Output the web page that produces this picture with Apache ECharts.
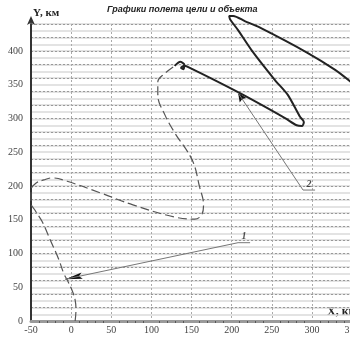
<!DOCTYPE html>
<html><head><meta charset="utf-8">
<script src="https://cdn.jsdelivr.net/npm/echarts@6/dist/echarts.min.js"></script>
<style>html,body{margin:0;padding:0;background:#fff}#c{width:350px;height:337px}</style>
</head><body><div id="c"></div>
<script>
// Axis ticks
const xTicks = [-50, 0, 50, 100, 150, 200, 250, 300, 350];
const yTicks = [0, 50, 100, 150, 200, 250, 300, 350, 400];

// Object trajectory (dashed), km
const objectX = [5, 6, 5, 1, -5, -9, -16, -26, -36, -45, -50, -50, -44, -34, -24, -5, 36, 77, 129, 154, 163, 165, 160, 151, 129, 117, 108, 108, 117, 129];
const objectY = [0, 16, 31, 46, 61, 70, 93, 120, 147, 164, 175, 194, 204, 209, 212, 207, 190, 172, 154, 151, 158, 172, 199, 238, 279, 305, 335, 354, 367, 378];

// Target trajectory (solid), km
const targetX = [129, 136, 141, 140, 137, 141, 148, 208, 266, 281, 288, 290, 285, 270, 254, 225, 208, 198, 197, 202, 217, 233, 295, 329, 352];
const targetY = [378, 384, 380, 373, 375, 378, 375, 339, 301, 290, 289, 295, 303, 335, 357, 401, 431, 447, 452, 452, 444, 436, 397, 372, 351];

// Pointer lines with labels
const pointer1X = [223, 208, -7];
const pointer1Y = [116, 116, 62];
const pointer2X = [304, 289, 208];
const pointer2Y = [194, 194, 338];
const pointerLabels = ['1', '2'];

const serif = 'Liberation Serif';
const chart = echarts.init(document.getElementById('c'), null, {renderer: 'canvas'});
const zip = (xs, ys) => xs.map((x, i) => [x, ys[i]]);
const p1 = zip(pointer1X, pointer1Y);
const p2 = zip(pointer2X, pointer2Y);
// short segment at the end of each pointer, carrying the arrow head
const tail = (pts) => {
  const a = pts[pts.length - 2], b = pts[pts.length - 1], t = 0.97;
  return [[a[0] + (b[0] - a[0]) * t, a[1] + (b[1] - a[1]) * t], b];
};
// arrow heads with the tip at the symbol centre
const arrowLong = 'path://M0,0 L3,16 L0,13 L-3,16 Z M-16,-16 M16,16';
const arrowShort = 'path://M0,0 L4,9 L0,7.5 L-4,9 Z M-9,-9 M9,9';

chart.setOption({
  animation: false,
  backgroundColor: '#fff',
  title: {
    text: 'Графики полета цели и объекта', left: 102, top: 0,
    textStyle: {fontStyle: 'italic', fontWeight: 'bold', fontSize: 9, fontFamily: 'Liberation Sans', color: '#222'}
  },
  grid: {left: 31, right: -2, top: 24, bottom: 16, containLabel: false, outerBoundsMode: 'none'},
  xAxis: {
    type: 'value', min: xTicks[0], max: xTicks[xTicks.length - 1], interval: 50,
    axisLine: {show: true, onZero: false, lineStyle: {color: '#9a9a9a', width: 3}},
    axisTick: {show: false},
    minorTick: {show: true, splitNumber: 5, length: 2, lineStyle: {color: '#555', width: 1}},
    axisLabel: {fontFamily: serif, fontSize: 10, color: '#444', margin: 4, showMinLabel: true, showMaxLabel: true, hideOverlap: false},
    splitLine: {show: true, lineStyle: {type: [2, 2], color: '#aaa', width: 1}}
  },
  yAxis: [{
    type: 'value', min: 0, max: 440, interval: 10,
    axisLine: {show: true, onZero: false, symbol: ['none', 'arrow'], symbolSize: [6, 9], symbolOffset: [0, 8],
      lineStyle: {color: '#333', width: 2}},
    axisTick: {show: false},
    axisLabel: {fontFamily: serif, fontSize: 10, color: '#444', margin: 8,
      formatter: v => (yTicks.indexOf(v) >= 0 ? String(v) : '')},
    splitLine: {show: true, lineStyle: {color: '#dadada', type: 'solid', width: 1.5}}
  }, {
    type: 'value', min: 0, max: 440, interval: 10,
    axisLine: {show: false}, axisTick: {show: false}, axisLabel: {show: false},
    splitLine: {show: true, lineStyle: {color: ['#999', 'rgba(0,0,0,0)'], type: [2, 2], width: 1}}
  }],
  graphic: [
    {type: 'text', left: 33, top: 8, style: {text: 'Y, км', font: 'bold 11px "Liberation Serif"', fill: '#222'}},
    {type: 'text', left: 327, top: 306, style: {text: 'X, км', font: 'bold 12px "Liberation Serif"', fill: '#222'}}
  ],
  series: [
    {type: 'line', data: zip(objectX, objectY), smooth: 0.4, showSymbol: false, clip: false,
      lineStyle: {color: '#555', width: 1.2, type: [9, 4]}},
    {type: 'line', data: zip(targetX, targetY), smooth: 0.25, showSymbol: false, clip: false,
      lineStyle: {color: '#222', width: 2}},
    {type: 'line', data: p1, showSymbol: false, lineStyle: {color: '#777', width: 1}},
    {type: 'line', data: p2, showSymbol: false, lineStyle: {color: '#777', width: 1}},
    {type: 'lines', coordinateSystem: 'cartesian2d', symbol: ['none', arrowLong], symbolSize: [1, 34],
      lineStyle: {color: '#111', width: 1, opacity: 1}, data: [{coords: tail(p1)}]},
    {type: 'lines', coordinateSystem: 'cartesian2d', symbol: ['none', arrowShort], symbolSize: [1, 18],
      lineStyle: {color: '#111', width: 1, opacity: 1}, data: [{coords: tail(p2)}]},
    {type: 'scatter', symbolSize: 0, data: [[(pointer1X[0] + pointer1X[1]) / 2, pointer1Y[0]], [(pointer2X[0] + pointer2X[1]) / 2, pointer2Y[0]]],
      label: {show: true, position: 'top', distance: 1, formatter: p => pointerLabels[p.dataIndex],
        fontFamily: serif, fontStyle: 'italic', fontWeight: 'bold', fontSize: 10, color: '#222'}}
  ]
});
</script></body></html>
